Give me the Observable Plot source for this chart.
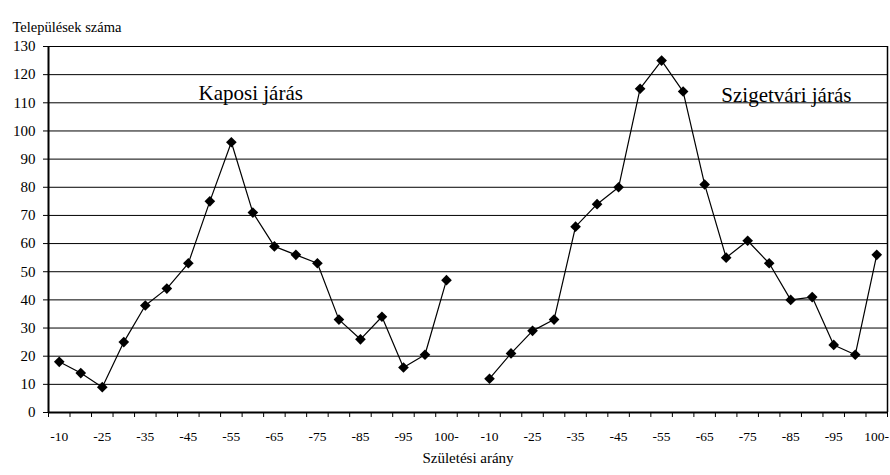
<!DOCTYPE html>
<html>
<head>
<meta charset="utf-8">
<script src="https://cdn.jsdelivr.net/npm/d3@7"></script>
<script src="https://cdn.jsdelivr.net/npm/@observablehq/plot@0.6"></script>
<style>
  html, body { margin: 0; padding: 0; background: #fff; }
  #chart svg, #chart svg text, #chart svg g { font-family: "Liberation Serif", "DejaVu Serif", "Times New Roman", serif !important; }
</style>
</head>
<body>
<div id="chart"></div>
<script>
// ---- data ----
const categories = ["-10","-20","-25","-30","-35","-40","-45","-50","-55","-60","-65","-70","-75","-80","-85","-90","-95","-100","100-"];
const districts = ["Kaposi járás", "Szigetvári járás"];
const kaposi     = [18, 14, 9, 25, 38, 44, 53, 75, 96, 71, 59, 56, 53, 33, 26, 34, 16, 20.5, 47];
const szigetvari = [12, 21, 29, 33, 66, 74, 80, 115, 125, 114, 81, 55, 61, 53, 40, 41, 24, 20.5, 56];
const yTicks = [0, 10, 20, 30, 40, 50, 60, 70, 80, 90, 100, 110, 120, 130];
const yTitle = "Települések száma";
const xTitle = "Születési arány";

// ---- derived tables ----
const n = categories.length;
const step = n + 1;               // one empty slot between the two districts
const total = 2 * n + 1;
const series = [kaposi, szigetvari];
const rows = series.flatMap((vals, d) =>
  vals.map((v, i) => ({district: districts[d], pos: d * step + i + 0.5, value: v})));
const labelTicks = districts.flatMap((_, d) =>
  categories.map((c, i) => ({pos: d * step + i + 0.5, label: c, i})))
  .filter(t => t.i % 2 === 0);
const labelMap = new Map(labelTicks.map(t => [t.pos, t.label]));
const annotations = [
  {text: districts[0], pos: 9.4, value: 113.4},
  {text: districts[1], pos: 34.3, value: 112.6}
];

const serif = "Liberation Serif, DejaVu Serif, Times New Roman, serif";

const chart = Plot.plot({
  width: 890,
  height: 475,
  marginTop: 46,
  marginBottom: 63,
  marginLeft: 48,
  marginRight: 3,
  style: "font-family: 'Liberation Serif', 'DejaVu Serif', serif; background: #fff; color: #000; overflow: visible;",
  x: {domain: [0, total]},
  y: {domain: [0, 130]},
  marks: [
    Plot.ruleY(yTicks, {stroke: "#000", strokeWidth: 1}),
    Plot.text(annotations, {x: "pos", y: "value", text: "text", fontSize: 21, fontFamily: serif, fill: "#000", ariaLabel: "district-label"}),
    Plot.line(rows, {x: "pos", y: "value", z: "district", stroke: "#000", strokeWidth: 1.2}),
    Plot.dot(rows, {x: "pos", y: "value", symbol: "diamond2", r: 4.8, fill: "#000", stroke: "none"}),
    Plot.ruleX([0], {stroke: "#000", strokeWidth: 2}),
    Plot.ruleX([total], {stroke: "#000", strokeWidth: 1.5}),
    Plot.ruleY([0], {stroke: "#000", strokeWidth: 1.8}),
    Plot.axisY({ticks: yTicks, tickSize: 5, tickPadding: 8, fontSize: 15, fontFamily: serif, label: null, tickFormat: d => String(d), stroke: "#000"}),
    Plot.axisX({ticks: d3.range(0, total + 1), tickSize: 5, tickFormat: () => "", label: null, stroke: "#000"}),
    Plot.axisX({ticks: labelTicks.map(t => t.pos), tickSize: 0, tickPadding: 19, fontSize: 13.5, fontFamily: serif, label: null, tickFormat: p => labelMap.get(p)}),
    Plot.text([yTitle], {text: d => d, frameAnchor: "top-left", dx: -36, dy: -25, textAnchor: "start", fontSize: 14.5, fontFamily: serif, fill: "#000", ariaLabel: "ytitle"}),
    Plot.text([xTitle], {text: d => d, frameAnchor: "bottom", dy: 50, fontSize: 15, fontFamily: serif, fill: "#000", ariaLabel: "xtitle"})
  ]
});

document.getElementById("chart").appendChild(chart);

// serif font on every text element, as in the reference
chart.querySelectorAll("text").forEach(t => t.setAttribute("font-family", serif));

// spaced-out titles, as in the reference
chart.querySelectorAll('g[aria-label="ytitle"] text').forEach(t => {
  t.setAttribute("textLength", "126");
  t.setAttribute("lengthAdjust", "spacing");
});
chart.querySelectorAll('g[aria-label="xtitle"] text').forEach(t => {
  t.setAttribute("textLength", "99");
  t.setAttribute("lengthAdjust", "spacing");
});

// white label boxes behind the district names (they cut the 110 gridline)
const svgRect = chart.getBoundingClientRect();
const labelGroup = chart.querySelector('g[aria-label="district-label"]');
if (labelGroup) {
  labelGroup.querySelectorAll("text").forEach(t => {
    const b = t.getBoundingClientRect();
    const cx = b.left + b.width / 2 - svgRect.left;
    const cy = b.top + b.height / 2 - svgRect.top;
    const r = document.createElementNS("http://www.w3.org/2000/svg", "rect");
    r.setAttribute("x", cx - 96);
    r.setAttribute("y", cy - 14);
    r.setAttribute("width", 192);
    r.setAttribute("height", 28);
    r.setAttribute("fill", "#fff");
    labelGroup.parentNode.insertBefore(r, labelGroup);
  });
}
</script>
</body>
</html>
